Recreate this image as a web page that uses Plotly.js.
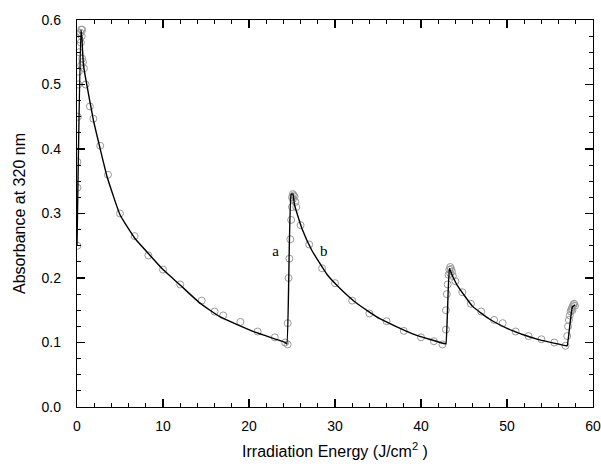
<!DOCTYPE html>
<html>
<head>
<meta charset="utf-8">
<script src="https://cdn.plot.ly/plotly-3.0.1.min.js"></script>
<style>html,body{margin:0;padding:0;background:#fff;}#chart{width:601px;height:467px;}</style>
</head>
<body>
<div id="chart"></div>
<script>
// Fitted curve (solid line)
const fitX = [0, 0.45, 0.55, 0.75, 1.0, 1.9, 2.7, 3.5, 5.0, 6.7, 8.5, 10, 12, 14.3, 16.6, 20.7, 24.2, 24.4,
              24.9, 25.1, 25.3, 26.2, 27.3, 29.1, 30.5, 32.6, 35.2, 39.1, 42.8,
              42.9, 43.3, 43.6, 44.2, 46.0, 48.0, 50.0, 51.9, 53.8, 56.9,
              57.0, 57.6, 57.9];
const fitY = [0.25, 0.585, 0.575, 0.53, 0.51, 0.445, 0.40, 0.357, 0.298, 0.262, 0.235, 0.213, 0.189, 0.161, 0.14, 0.116, 0.100, 0.098,
              0.33, 0.33, 0.313, 0.275, 0.243, 0.205, 0.185, 0.16, 0.137, 0.113, 0.098,
              0.098, 0.215, 0.205, 0.189, 0.156, 0.136, 0.122, 0.112, 0.104, 0.095,
              0.095, 0.155, 0.158];

// Measured points (open circles)
const ptsX = [0.05, 0.05, 0.05, 0.1, 0.15, 0.2, 0.25, 0.3, 0.4, 0.5, 0.6, 0.55, 0.45, 0.6, 0.7, 0.5, 0.8, 1.0, 1.5, 1.9, 2.7, 3.6, 5.0, 6.7, 8.3, 10, 12, 14.5, 16, 17, 19, 21, 23, 24.2, 24.5,
              24.5, 24.6, 24.7, 24.8, 24.9, 25.0, 25.0, 25.1, 25.2, 25.1, 25.3, 25.4, 25.5,
              26, 27, 28.5, 30, 32, 34, 36, 38, 40, 41.5, 42.5,
              42.9, 42.9, 43.0, 43.1, 43.2, 43.3, 43.4, 43.5, 43.6, 43.4, 43.7, 44.0,
              44.8, 45.8, 47, 48.5, 49.5, 51, 52.5, 54, 55.5, 56.8,
              57.0, 57.1, 57.2, 57.3, 57.4, 57.5, 57.6, 57.7, 57.8, 57.6, 57.9];
const ptsY = [0.25, 0.34, 0.38, 0.45, 0.50, 0.52, 0.55, 0.57, 0.58, 0.585, 0.585, 0.575, 0.565, 0.54, 0.535, 0.53, 0.525, 0.50, 0.466, 0.447, 0.405, 0.36, 0.30, 0.265, 0.235, 0.213, 0.19, 0.165, 0.148, 0.142, 0.132, 0.117, 0.108, 0.100, 0.097,
              0.13, 0.20, 0.23, 0.26, 0.29, 0.31, 0.325, 0.33, 0.328, 0.322, 0.326, 0.318, 0.31,
              0.282, 0.252, 0.215, 0.192, 0.165, 0.145, 0.133, 0.118, 0.108, 0.102, 0.097,
              0.12, 0.15, 0.175, 0.19, 0.205, 0.213, 0.217, 0.214, 0.21, 0.207, 0.203, 0.195,
              0.178, 0.16, 0.148, 0.135, 0.13, 0.117, 0.11, 0.105, 0.10, 0.095,
              0.11, 0.125, 0.135, 0.142, 0.148, 0.152, 0.155, 0.158, 0.16, 0.15, 0.157];

// Curve labels
const labelText = ["a", "b"];
const labelX = [23.1, 28.7];
const labelY = [0.24, 0.24];

const traces = [
  {x: ptsX, y: ptsY, type: 'scatter', mode: 'markers',
   marker: {symbol: 'circle-open', size: 7, color: '#999', line: {width: 1, color: '#999'}},
   hoverinfo: 'skip', showlegend: false},
  {x: fitX, y: fitY, type: 'scatter', mode: 'lines',
   line: {color: '#000', width: 1.4, shape: 'spline', smoothing: 0.4}, showlegend: false},
  {x: labelX, y: labelY, text: labelText, type: 'scatter', mode: 'text',
   textfont: {family: 'Liberation Serif, Times New Roman, serif', size: 15, color: '#000'},
   textposition: 'middle center', showlegend: false}
];

const axisCommon = {
  showgrid: false, zeroline: false, showline: true, linecolor: '#000', linewidth: 1.2,
  mirror: 'allticks', ticks: 'inside', ticklen: 8, tickwidth: 1.2, tickcolor: '#000',
  tickfont: {family: 'Liberation Sans, Arial, sans-serif', size: 14, color: '#000'}
};

const layout = {
  width: 601, height: 467,
  margin: {l: 77, r: 8, t: 20, b: 60},
  paper_bgcolor: '#fff', plot_bgcolor: '#fff',
  font: {family: 'Liberation Sans, Arial, sans-serif', color: '#000'},
  xaxis: Object.assign({}, axisCommon, {
    range: [0, 60], dtick: 10, tick0: 0, ticklabelstandoff: 6,
    minor: {dtick: 2, ticks: 'inside', ticklen: 4, tickcolor: '#000', tickwidth: 1},
    title: {text: 'Irradiation Energy (J/cm<sup>2</sup> )', font: {size: 16, color: '#000'}, standoff: 12}
  }),
  yaxis: Object.assign({}, axisCommon, {
    range: [0, 0.6], dtick: 0.1, tick0: 0, tickformat: '.1f', ticklabelstandoff: 12,
    minor: {dtick: 0.025, ticks: 'inside', ticklen: 4, tickcolor: '#000', tickwidth: 1},
    title: {text: 'Absorbance at 320 nm', font: {size: 16, color: '#000'}, standoff: 12}
  })
};

Plotly.newPlot('chart', traces, layout, {displayModeBar: false, staticPlot: true});
</script>
</body>
</html>
